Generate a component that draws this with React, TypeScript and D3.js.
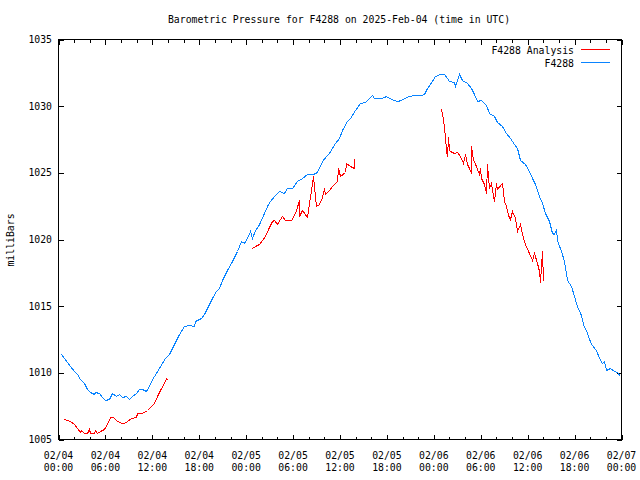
import React from "react";
import * as d3 from "d3";

const TITLE = "Barometric Pressure for F4288 on 2025-Feb-04 (time in UTC)";
const Y_LABEL = "milliBars";
const SERIES_NAMES = ["F4288 Analysis", "F4288"];
const START = Date.UTC(2025, 1, 4, 0, 0);
const END = Date.UTC(2025, 1, 7, 0, 0);
const Y_TICKS = [1005, 1010, 1015, 1020, 1025, 1030, 1035];

// F4288 observations: hours since 2025-02-04 00:00 UTC and pressure (mb)
const stationHours = [
  0.26, 0.68, 1.11, 1.53, 1.96, 2.39, 2.81, 3.24, 3.67, 4.09, 4.51, 4.73, 5.15, 5.59, 6.01, 6.43, 6.87, 7.29, 7.71, 8.15,
  8.57, 8.99, 9.43, 9.85, 10.27, 10.7, 11.13, 11.55, 11.98, 12.41, 12.83, 13.26, 13.68, 14.11, 14.75, 15.38, 16.02, 16.66,
  17.3, 17.52, 18.16, 18.58, 18.8, 19.22, 19.66, 20.08, 20.5, 20.94, 21.57, 22.21, 22.85, 23.28, 23.7, 24.13, 24.46, 24.77,
  25.19, 25.49, 25.83, 26.26, 26.69, 27.11, 27.53, 28.17, 28.81, 29.25, 29.89, 30.53, 31.17, 31.81, 32.44, 32.87, 33.29,
  33.72, 34.15, 34.57, 35.0, 35.42, 35.85, 36.28, 36.92, 37.34, 37.98, 38.62, 39.26, 39.68, 40.12, 40.41, 41.18, 41.6,
  41.82, 42.24, 42.88, 43.32, 43.74, 44.16, 44.8, 45.44, 46.3, 46.72, 47.15, 47.79, 48.21, 48.85, 49.28, 49.71, 49.91,
  50.55, 50.77, 51.19, 51.63, 52.27, 52.69, 53.11, 53.55, 53.97, 54.61, 55.03, 55.67, 56.1, 56.74, 57.17, 57.8, 58.23,
  58.66, 59.08, 59.72, 60.15, 60.58, 61.0, 61.42, 61.86, 62.28, 62.7, 63.14, 63.43, 63.65, 63.78, 64.2, 64.62, 64.97,
  65.48, 65.9, 66.25, 66.76, 67.1, 67.61, 68.04, 68.68, 69.1, 69.53, 69.74, 70.04, 70.59, 71.02, 71.45, 71.78,
];
const stationPressure = [
  1011.43, 1011.13, 1010.8, 1010.5, 1010.12, 1009.88, 1009.55, 1009.25, 1008.8, 1008.55, 1008.38, 1008.55, 1008.45, 1008.2,
  1008.0, 1008.05, 1008.45, 1008.3, 1008.38, 1008.2, 1008.25, 1008.05, 1008.25, 1008.5, 1008.8, 1008.8, 1008.62, 1009.0,
  1009.55, 1010.0, 1010.36, 1010.75, 1011.13, 1011.38, 1012.13, 1012.88, 1013.5, 1013.57, 1013.55, 1013.87, 1014.13,
  1014.38, 1014.75, 1015.13, 1015.63, 1016.12, 1016.38, 1017.0, 1017.75, 1018.37, 1019.12, 1019.87, 1019.75, 1020.09,
  1020.62, 1020.13, 1020.75, 1021.0, 1021.31, 1022.0, 1022.5, 1022.87, 1023.25, 1023.62, 1023.5, 1023.88, 1023.9, 1024.37,
  1024.63, 1024.88, 1024.88, 1025.0, 1025.38, 1025.87, 1026.3, 1026.47, 1026.88, 1027.25, 1027.63, 1028.25, 1028.87,
  1029.13, 1029.75, 1030.25, 1030.33, 1030.63, 1030.82, 1030.63, 1030.58, 1030.7, 1030.75, 1030.58, 1030.5, 1030.37,
  1030.45, 1030.58, 1030.75, 1030.82, 1030.85, 1030.93, 1031.38, 1031.87, 1032.25, 1032.41, 1032.38, 1032.13, 1031.87,
  1031.8, 1031.5, 1032.38, 1032.0, 1031.75, 1031.38, 1030.88, 1030.37, 1030.5, 1030.09, 1029.5, 1029.25, 1028.81, 1028.5,
  1028.0, 1027.58, 1027.13, 1026.88, 1026.0, 1025.63, 1025.12, 1024.63, 1024.13, 1023.25, 1022.75, 1022.0, 1021.37,
  1020.5, 1020.38, 1020.8, 1020.0, 1019.12, 1018.37, 1017.0, 1016.5, 1015.75, 1015.0, 1014.37, 1013.63, 1013.0, 1012.13,
  1011.75, 1011.13, 1010.75, 1010.87, 1010.25, 1010.38, 1010.12, 1010.05, 1009.8,
];

// F4288 Analysis, three separate runs
const analysis1Hours = [
  0.68, 1.11, 1.53, 1.96, 2.39, 2.81, 2.94, 3.24, 3.67, 3.88, 4.09, 4.51, 4.73, 4.95, 5.37, 5.79, 6.23, 6.65, 6.94, 7.29,
  7.93, 8.35, 8.79, 9.21, 9.85, 10.06, 10.49, 10.91, 11.34, 11.77, 12.19, 12.62, 13.04, 13.47, 13.81, 14.03,
];
const analysis1Pressure = [
  1006.55, 1006.45, 1006.37, 1006.13, 1005.88, 1005.55, 1005.75, 1005.5, 1005.5, 1005.8, 1005.5, 1005.45, 1005.7, 1005.45,
  1005.62, 1005.8, 1006.13, 1006.7, 1006.7, 1006.5, 1006.2, 1006.25, 1006.37, 1006.58, 1006.7, 1007.0, 1006.95, 1007.05,
  1007.25, 1007.5, 1007.75, 1008.25, 1008.75, 1009.25, 1009.63, 1009.5,
];
const analysis2Hours = [
  24.77, 25.19, 25.62, 26.05, 26.47, 26.89, 27.33, 27.62, 27.97, 28.39, 28.61, 29.03, 29.67, 30.02, 30.31, 30.73, 30.82,
  31.17, 31.72, 32.01, 32.23, 32.57, 32.87, 33.29, 33.72, 33.93, 34.02, 34.57, 35.0, 35.64, 35.77, 36.06, 36.7, 36.83,
  37.34, 37.76, 37.85,
];
const analysis2Pressure = [
  1019.38, 1019.55, 1019.63, 1020.0, 1020.25, 1020.95, 1021.37, 1021.45, 1021.13, 1021.5, 1021.75, 1021.43, 1021.43,
  1021.7, 1022.25, 1023.0, 1021.8, 1022.25, 1021.7, 1022.75, 1023.75, 1024.75, 1022.5, 1022.63, 1023.2, 1023.88, 1023.38,
  1023.75, 1024.05, 1024.37, 1025.38, 1024.8, 1025.05, 1025.7, 1025.55, 1025.38, 1026.13,
];
const analysis3Hours = [
  48.76, 48.98, 49.15, 49.27, 49.4, 49.58, 49.66, 49.79, 49.91, 50.13, 50.55, 50.99, 51.41, 51.71, 51.96, 52.18, 52.47,
  52.69, 52.78, 52.98, 53.2, 53.46, 53.75, 53.88, 54.06, 54.39, 54.61, 54.83, 55.03, 55.34, 55.59, 55.67, 55.89, 56.1,
  56.74, 56.95, 57.17, 57.46, 57.72, 58.02, 58.32, 58.66, 58.96, 59.3, 59.72, 60.15, 60.58, 60.87, 61.22, 61.42, 61.64,
  61.86, 61.99,
];
const analysis3Pressure = [
  1029.8, 1029.8, 1029.0, 1028.38, 1027.75, 1026.75, 1026.25, 1027.7, 1026.75, 1026.62, 1026.45, 1026.55, 1026.25,
  1025.75, 1026.38, 1025.63, 1025.38, 1025.0, 1027.05, 1026.0, 1025.87, 1025.25, 1024.88, 1025.38, 1024.63, 1024.13,
  1023.45, 1025.63, 1023.88, 1024.25, 1023.3, 1022.87, 1024.25, 1023.8, 1024.25, 1022.87, 1022.5, 1021.87, 1021.5,
  1022.12, 1021.63, 1020.62, 1021.13, 1020.38, 1019.63, 1019.0, 1018.5, 1019.0, 1018.25, 1017.62, 1016.8, 1019.12,
  1016.87,
];

const RED = "#ff0000";
const BLUE = "#0a84ff";
const FONT = "'DejaVu Sans Mono', 'Liberation Mono', monospace";

const W = 640;
const H = 480;
const L = 58.5;
const R = 621.5;
const T = 39.5;
const B = 439.5;

type Pt = { t: Date; v: number };
const zip = (hs: number[], vs: number[]): Pt[] =>
  hs.map((h, i) => ({ t: new Date(START + h * 3600000), v: vs[i] }));

export default function App() {
  const x = d3.scaleUtc().domain([new Date(START), new Date(END)]).range([L, R]);
  const y = d3.scaleLinear().domain([1005, 1035]).range([B, T]);
  const line = d3
    .line<Pt>()
    .x((d) => Math.round(x(d.t)) + 0.5)
    .y((d) => Math.round(y(d.v)) + 0.5);

  const station = zip(stationHours, stationPressure);
  const analysis = [
    zip(analysis1Hours, analysis1Pressure),
    zip(analysis2Hours, analysis2Pressure),
    zip(analysis3Hours, analysis3Pressure),
  ];

  const minorTicks = d3.utcHour.every(2)!.range(new Date(START), new Date(END + 1));
  const majorTicks = d3.utcHour.every(6)!.range(new Date(START), new Date(END + 1));
  const fmtDate = d3.utcFormat("%m/%d");
  const fmtTime = d3.utcFormat("%H:%M");

  return (
    <svg width={W} height={H} style={{ display: "block", position: "absolute", left: 0, top: 0, background: "#fff" }}
      fontFamily={FONT} fontSize={9.8}>
      <rect x={0} y={0} width={W} height={H} fill="#fff" />
      <text x={339} y={23} textAnchor="middle">{TITLE}</text>
      <text transform="translate(14,240) rotate(-90)" textAnchor="middle">{Y_LABEL}</text>

      <g shapeRendering="crispEdges" stroke="#000" strokeWidth={1}>
        {minorTicks.map((d, i) => {
          const px = Math.round(x(d)) + 0.5;
          const isMajor = d.getUTCHours() % 6 === 0;
          const len = isMajor ? 5 : 3;
          return (
            <g key={"xt" + i}>
              <line x1={px} x2={px} y1={B} y2={B - len} />
              <line x1={px} x2={px} y1={T} y2={T + len} />
            </g>
          );
        })}
        {Y_TICKS.map((v) => {
          const py = Math.round(y(v)) + 0.5;
          return (
            <g key={"yt" + v}>
              <line x1={L} x2={L + 5} y1={py} y2={py} />
              <line x1={R} x2={R - 5} y1={py} y2={py} />
            </g>
          );
        })}
      </g>

      {Y_TICKS.map((v) => (
        <text key={"yl" + v} x={52} y={y(v) + 3.6} textAnchor="end">{v}</text>
      ))}
      {majorTicks.map((d, i) => (
        <g key={"xl" + i}>
          <text x={x(d)} y={459} textAnchor="middle">{fmtDate(d)}</text>
          <text x={x(d)} y={471} textAnchor="middle">{fmtTime(d)}</text>
        </g>
      ))}

      <g fill="none" strokeWidth={1} shapeRendering="crispEdges">
        <path d={line(station) ?? ""} stroke={BLUE} />
        {analysis.map((seg, i) => (
          <path key={"a" + i} d={line(seg) ?? ""} stroke={RED} />
        ))}
      </g>

      <text x={574} y={53.6} textAnchor="end">{SERIES_NAMES[0]}</text>
      <text x={574} y={66.6} textAnchor="end">{SERIES_NAMES[1]}</text>
      <g shapeRendering="crispEdges" strokeWidth={1}>
        <line x1={581} x2={610} y1={49.5} y2={49.5} stroke={RED} />
        <line x1={581} x2={610} y1={62.5} y2={62.5} stroke={BLUE} />
      </g>

      <rect x={L} y={T} width={R - L} height={B - T} fill="none" stroke="#000" strokeWidth={1} shapeRendering="crispEdges" />
    </svg>
  );
}
